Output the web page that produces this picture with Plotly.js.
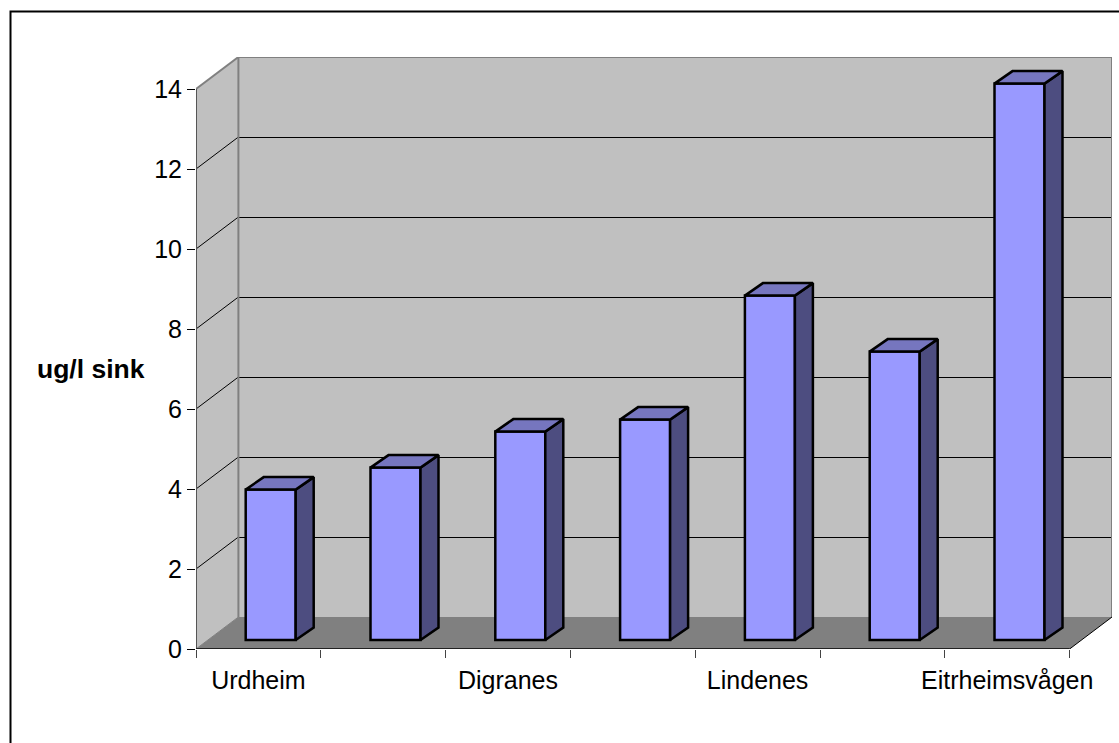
<!DOCTYPE html>
<html>
<head>
<meta charset="utf-8">
<script src="https://cdn.plot.ly/plotly-3.0.1.min.js"></script>
<style>html,body{margin:0;padding:0;background:#fff;overflow:hidden}</style>
</head>
<body>
<div id="chart" style="width:1119px;height:743px"></div>
<script>
const categories = ["Urdheim", "", "Digranes", "", "Lindenes", "", "Eitrheimsvågen"];
const values = [3.76, 4.31, 5.21, 5.51, 8.61, 7.21, 13.91];
const yTicks = [0, 2, 4, 6, 8, 10, 12, 14];

const frontColor = "#9999ff", sideColor = "#4d4d80", topColor = "#7676bf";
const wallColor = "#c0c0c0", floorColor = "#808080", edgeColor = "#808080";

// Pixel frame of the projected box
const W = 1119, H = 743, L = 196, T = 57, R = 1112, B = 649;
const catPx = 124.8, unitPx = 40;
const wallDx = (R - L - 7 * catPx) / catPx;   // box depth, x units
const wallDy = 32 / unitPx;                   // box depth, y units
const barDx = 18 / catPx, barDy = 12.5 / unitPx;
const offX = 12.3 / catPx, lift = 9 / unitPx, barW = 50 / catPx;
const crisp = 0.5 / unitPx;                   // puts 1px rules on a pixel row

const xs = categories.map((_, i) => i);
const barX = xs.map(i => i + offX);
const x0 = -0.5, xFront = 6.5, xEnd = xFront + wallDx;
const yMax = 14, yEnd = yMax + wallDy;

const sideX = [], sideY = [], topX = [], topY = [];
values.forEach((v, i) => {
  const l = barX[i] - barW / 2, r = barX[i] + barW / 2, t = lift + v;
  sideX.push(r, r + barDx, r + barDx, r, r, null);
  sideY.push(lift, lift + barDy, t + barDy, t, lift, null);
  topX.push(l, l + barDx, r + barDx, r, l, null);
  topY.push(t, t + barDy, t + barDy, t, t, null);
});

function poly(pts, fill) {
  return {type: "path", xref: "x", yref: "y", layer: "below", fillcolor: fill,
    line: {width: 0},
    path: "M" + pts.map(p => p.join(",")).join("L") + "Z"};
}
function seg(a, b, color, width) {
  return {type: "line", xref: "x", yref: "y", layer: "below",
    x0: a[0], y0: a[1], x1: b[0], y1: b[1], line: {color: color, width: width}};
}
const bx = x0 + wallDx;
const shapes = [
  poly([[bx, wallDy], [xEnd, wallDy], [xEnd, yEnd], [bx, yEnd]], wallColor),
  poly([[x0, 0], [bx, wallDy], [bx, yEnd], [x0, yMax]], wallColor),
  poly([[x0, 0], [bx, wallDy], [xEnd, wallDy], [xFront, 0]], floorColor)
];
yTicks.slice(1, -1).forEach(v => {
  shapes.push(seg([x0, v], [bx, v + wallDy], "#000", 1));
  shapes.push(seg([bx, v + wallDy - crisp], [xEnd, v + wallDy - crisp], "#000", 1));
});
shapes.push(
  seg([bx, wallDy], [bx, yEnd], edgeColor, 2),
  seg([bx, yEnd], [xEnd, yEnd], edgeColor, 2),
  seg([xEnd, wallDy], [xEnd, yEnd], edgeColor, 2),
  seg([x0, yMax], [bx, yEnd], edgeColor, 2),
  seg([x0, 0], [bx, wallDy], edgeColor, 1),
  seg([xFront, 0], [xEnd, wallDy], "#000", 1),
  seg([x0, 0], [x0, yMax], "#555", 2),
  seg([x0, 0], [xFront, 0], "#222", 2)
);
// Outer chart frame (open at the right and bottom, where the picture is cut)
const pw = R - L, ph = B - T;
const px = v => (v - L) / pw, py = v => (B - v) / ph;
shapes.push({type: "path", xref: "paper", yref: "paper", layer: "above",
  line: {color: "#000", width: 2},
  path: `M${px(10.5)},${py(H + 2)}L${px(10.5)},${py(11.5)}L${px(W + 2)},${py(11.5)}`});

const traces = [
  {type: "bar", x: barX, y: values, base: lift, width: barW,
   marker: {color: frontColor, line: {color: "#000", width: 2.5}}, hoverinfo: "skip"},
  {type: "scatter", mode: "lines", x: sideX, y: sideY, fill: "toself", fillcolor: sideColor,
   line: {color: "#000", width: 2.5}, hoverinfo: "skip"},
  {type: "scatter", mode: "lines", x: topX, y: topY, fill: "toself", fillcolor: topColor,
   line: {color: "#000", width: 2.5}, hoverinfo: "skip"}
];

const font = {family: "Liberation Sans, Arial, sans-serif", size: 25, color: "#000"};
const layout = {
  width: W, height: H, showlegend: false,
  paper_bgcolor: "#fff", plot_bgcolor: "rgba(0,0,0,0)",
  margin: {l: L, r: W - R, t: T, b: H - B, pad: 0},
  font: font,
  xaxis: {
    type: "linear", range: [x0, xEnd], tickmode: "array", tickvals: xs, ticktext: categories,
    ticks: "outside", ticklen: 9, tickcolor: "rgba(0,0,0,0)", tickangle: 0,
    showgrid: false, zeroline: false, showline: false, tickfont: font, fixedrange: true,
    minor: {tickmode: "array", tickvals: xs.map(i => i - 0.5).concat([xFront]),
      ticks: "outside", ticklen: 8, tickwidth: 1, tickcolor: "#444", showgrid: false}
  },
  yaxis: {
    range: [0, yEnd], tickmode: "array", tickvals: yTicks, ticktext: yTicks.map(String),
    ticks: "outside", ticklen: 8, tickwidth: 1, tickcolor: "#000",
    showgrid: false, zeroline: false, showline: false, tickfont: font, fixedrange: true
  },
  shapes: shapes,
  annotations: [{text: "<b>ug/l sink</b>", xref: "paper", yref: "paper",
    x: px(91), y: py(369), xanchor: "center", yanchor: "middle", showarrow: false,
    font: {family: font.family, size: 26.5, color: "#000"}}]
};
Plotly.newPlot("chart", traces, layout, {displayModeBar: false, staticPlot: true});
</script>
</body>
</html>
